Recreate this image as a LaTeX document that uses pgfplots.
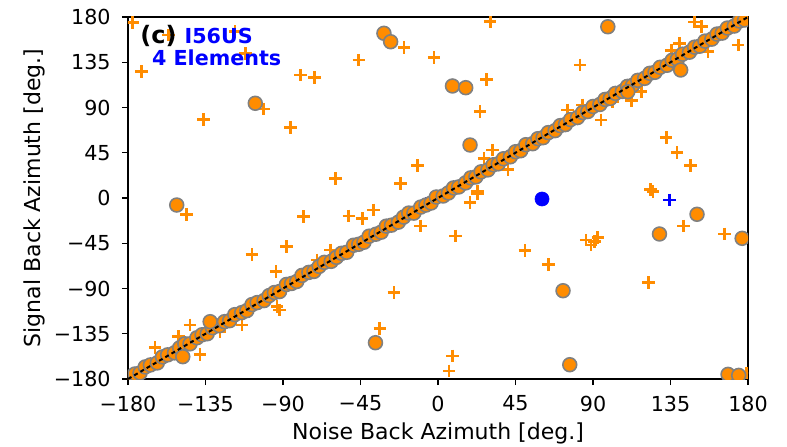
\documentclass[border=0pt]{standalone}
\usepackage{pgfplots}
\pgfplotsset{compat=1.18}
\usepackage{fontspec}
\setmainfont{DejaVu Sans}
\definecolor{dorange}{RGB}{255,140,0}
\definecolor{egrey}{RGB}{128,128,128}
\begin{document}
\begin{tikzpicture}
\useasboundingbox (-96pt,-50.25pt) rectangle (494.25pt,284.25pt);
\begin{axis}[
  scale only axis, width=465pt, height=271.5pt,
  xmin=-180, xmax=180, ymin=-180, ymax=180,
  xtick={-180,-135,-90,-45,0,45,90,135,180},
  ytick={-180,-135,-90,-45,0,45,90,135,180},
  xticklabels={−180,−135,−90,−45,0,45,90,135,180},
  yticklabels={−180,−135,−90,−45,0,45,90,135,180},
  tick align=outside, tickpos=left,
  major tick length=4.5pt,
  tick style={black, line width=0.8pt},
  axis line style={black, line width=0.8pt},
  ticklabel style={font=\fontsize{15.5}{18}\selectfont},
  xticklabel style={yshift=-4.5pt},
  yticklabel style={xshift=-5pt},
  label style={font=\fontsize{16.5}{19}\selectfont},
  xlabel style={yshift=-2pt},
  ylabel style={yshift=0pt},
  xlabel={Noise Back Azimuth [deg.]},
  ylabel={Signal Back Azimuth [deg.]},
  clip=true, clip marker paths=true,
]
% orange pluses
\addplot[only marks, mark=+, mark size=4.7pt, dorange, line width=2pt] coordinates {
(-177.3,174.3) (-156.6,162.1) (-117.8,165.4) (-111.9,143.9) (-172.1,125.6)
(-79.9,122.3) (-71.8,119.6) (-46,137.2) (-19.8,149.9) (-2.3,139.5)
(-101.3,88.5) (-136.2,78.3) (-85.7,70.3) (-12,32.1) (-59.5,19.6) (-21.7,14.6)
(30.3,175.3) (82.5,132.3) (28.3,118) (24.4,85.8) (94.7,77.6) (112.2,96.8)
(174.3,152.1) (149,175) (152.9,170.3) (140.3,153.8) (135.4,147) (156.8,145.5)
(132.5,60) (138.8,45) (146.7,32.1) (124.8,6.3) (123.5,8.5) (22.9,6.3) (40.7,28.5)
(75.3,87.5) (84,92.5) (101.5,95.8) (118,105.7) (26.8,39.5) (31.7,47.7)
(-145.9,-16.2) (-78,-18.6) (-51.8,-17.9) (-44,-20.2) (-37.6,-11.9) (-10.1,-27.8)
(-108,-56) (-88.1,-48.4) (-94.1,-73.3) (-25.6,-94.2) (-33.8,-129.6) (-92,-111.4)
(-93.5,-108) (-144,-126.3) (-138.1,-155.4) (-164.3,-148.9) (-150.8,-137.9)
(-113.9,-126.3) (-70.2,-61.6) (-62.5,-51.7) (-126.5,-133)
(22.9,4.7) (18.6,-4.7) (10.3,-37.8) (50.5,-52.4) (64.3,-65.9)
(86,-41.8) (88.9,-46.7) (92.8,-39.1) (90.8,-43.5) (142.6,-27.8) (166.5,-35.8)
(122.2,-84.2) (8.4,-157.1) (6.4,-172) (179,-174)
};
% blue markers
\addplot[only marks, mark=+, mark size=4.7pt, blue, line width=2pt] coordinates {(134.5,-2) (-4,0)};
\addplot[only marks, mark=*, mark size=5.3pt, blue, mark options={draw=blue, fill=blue}] coordinates {(60.4,-1)};
% orange circles
\addplot[only marks, mark=*, mark size=5.2pt, mark options={fill=dorange, draw=egrey, line width=1.2pt}] coordinates {
(-179,-178) (-176,-175) (-173,-174) (-170,-168) (-167,-166) (-163,-164) (-160,-158) (-157,-156)
(-153,-154) (-150,-149) (-147,-145) (-144,-145) (-140,-139) (-137,-136) (-134,-135) (-131,-129)
(-127,-127) (-124,-123) (-121,-122) (-118,-116) (-114,-114) (-111,-112) (-108,-106) (-105,-104)
(-101,-102) (-98,-97) (-95,-94) (-92,-93) (-88,-86) (-85,-85) (-82,-83) (-79,-77) (-75,-74)
(-72,-73) (-69,-68) (-66,-64) (-62,-63) (-59,-59) (-56,-55) (-53,-54) (-49,-47) (-46,-46)
(-43,-44) (-40,-38) (-36,-36) (-33,-34) (-30,-28) (-27,-27) (-23,-24) (-20,-19) (-17,-15)
(-14,-15) (-10,-9) (-7,-7) (-4,-5) (-1,1) (3,2) (6,5) (9,10) (12,11) (16,15) (19,20) (22,21)
(25,26) (29,28) (32,33) (35,34) (38,39) (42,41) (45,46) (48,47) (51,53) (55,54) (58,59) (61,60)
(64,65) (68,67) (71,72) (74,73) (77,78) (81,80) (84,85) (87,86) (90,91) (94,93) (97,98) (100,99)
(103,104) (107,106) (110,111) (113,112) (116,117) (120,119) (123,124) (126,125) (129,130)
(133,132) (136,137) (139,138) (142,143) (146,145) (149,150) (152,151) (155,156) (159,158)
(162,163) (165,164) (168,169) (172,171) (175,176) (178,177)
(-151.7,-7) (-148.2,-157.8) (-36.3,-143.9) (-132.3,-123) (-31.4,163.8) (-27.5,155.4)
(-106.1,94.2) (98.6,170.3) (8.4,111.4) (16.1,109.7) (18.6,52.7) (140.9,127.3) (110.2,105.7)
(150.4,-16.2) (128.6,-35.8) (176.6,-40.1) (72.6,-92.2) (76.5,-165.8) (168.4,-175.4) (174.6,-176.4)
};
% y = x line
\addplot[black, line width=1.5pt, dash pattern=on 3pt off 2.4pt] coordinates {(-180,-180) (180,180)};
\node[anchor=west, inner sep=0pt, font=\fontsize{18}{20}\selectfont\bfseries] at (axis cs:-173,161) {(c)};
\node[anchor=base west, inner sep=0pt, font=\fontsize{15.5}{18}\selectfont\bfseries, text=blue] at (axis cs:-147.3,153.8) {I56US};
\node[anchor=base west, inner sep=0pt, font=\fontsize{15.5}{18}\selectfont\bfseries, text=blue] at (axis cs:-166.2,131.6) {4 Elements};
\end{axis}
\end{tikzpicture}
\end{document}
